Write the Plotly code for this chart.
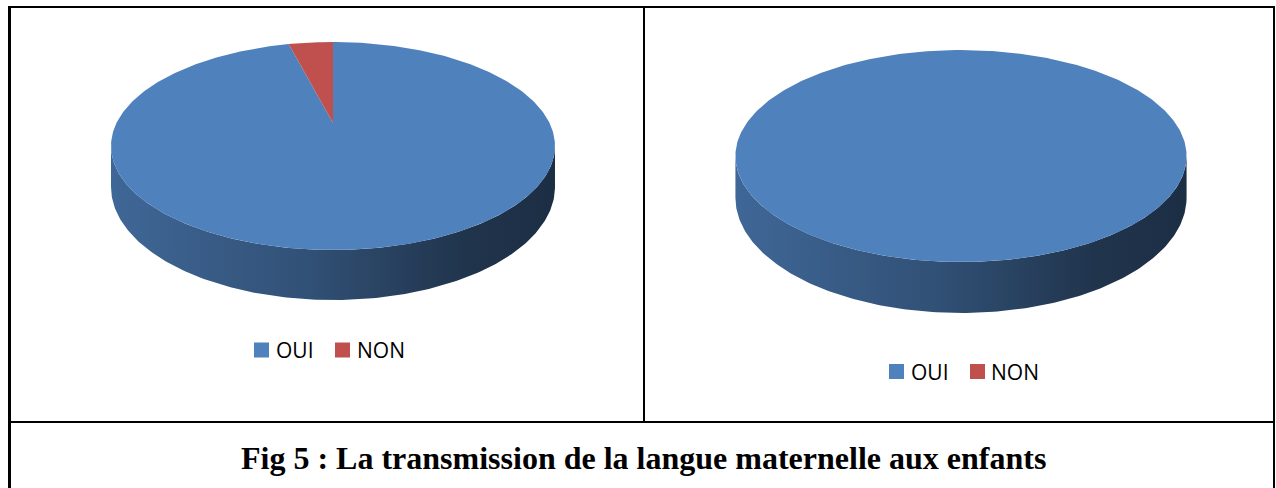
import numpy as np
import plotly.graph_objects as go

# ---- data ----
categories = ["OUI", "NON"]
left_values = [96, 4]
right_values = [100, 0]
caption = "Fig 5 : La transmission de la langue maternelle aux enfants"

colors = {"OUI": (79, 129, 189), "NON": (192, 80, 77)}

W, H = 1276, 488


def rgb(c, k=1.0):
    return "rgb(%d,%d,%d)" % tuple(int(round(v * k)) for v in c)


def project(theta, cx, cy, A, B, p, dz=0.0):
    """Perspective view of a disc: theta measured clockwise from 12 o'clock."""
    u = np.sin(theta)
    v = np.cos(theta)
    s = 1.0 / (1.0 + p * v)
    return cx + A * u * s, cy - B * v * s + dz * s


def pie3d(fig, values, geom):
    cx, cy, A, B, p, depth = geom
    total = float(sum(values))
    fr = np.cumsum([0.0] + [v / total for v in values])
    # silhouette of the rim (points where the outline is vertical)
    t_sil = np.arccos(-p)
    front0, front1 = t_sil, 2 * np.pi - t_sil
    xl = cx - A / np.sqrt(1 - p * p)
    xr = cx + A / np.sqrt(1 - p * p)

    # side walls first
    for cat, a, b in zip(categories, fr[:-1], fr[1:]):
        if b - a <= 0:
            continue
        t0 = max(2 * np.pi * a, front0)
        t1 = min(2 * np.pi * b, front1)
        if t1 <= t0:
            continue
        t = np.linspace(t0, t1, 200)
        xt, yt = project(t, cx, cy, A, B, p)
        xb, yb = project(t[::-1], cx, cy, A, B, p, depth)
        xs = np.concatenate([xt, xb, xt[:1]])
        ys = np.concatenate([yt, yb, yt[:1]])
        c = colors[cat]
        fig.add_trace(go.Scatter(
            x=xs, y=ys, mode="lines", fill="toself",
            line=dict(width=0), hoverinfo="skip", showlegend=False,
            fillgradient=dict(
                type="horizontal", start=xl, stop=xr,
                colorscale=[[0.0, rgb(c, 0.80)], [0.45, rgb(c, 0.62)],
                            [0.8, rgb(c, 0.40)], [1.0, rgb(c, 0.36)]],
            ),
        ))

    # top face slices
    for cat, a, b in zip(categories, fr[:-1], fr[1:]):
        if b - a <= 0:
            continue
        t = np.linspace(2 * np.pi * a, 2 * np.pi * b, max(4, int(400 * (b - a))))
        xt, yt = project(t, cx, cy, A, B, p)
        if b - a < 1:
            xs = np.concatenate([[cx], xt, [cx]])
            ys = np.concatenate([[cy], yt, [cy]])
        else:
            xs, ys = xt, yt
        fig.add_trace(go.Scatter(
            x=xs, y=ys, mode="lines", fill="toself",
            fillcolor=rgb(colors[cat]), line=dict(width=0),
            hoverinfo="skip", showlegend=False,
        ))


def legend(fig, xs_box, y, xs_text):
    fig.add_trace(go.Scatter(
        x=xs_box, y=[y] * len(categories), mode="markers",
        marker=dict(symbol="square", size=15,
                    color=[rgb(colors[c]) for c in categories], line=dict(width=0)),
        hoverinfo="skip", showlegend=False,
    ))
    for c, xt in zip(categories, xs_text):
        fig.add_annotation(x=xt, y=y, text=c, showarrow=False, xanchor="left",
                           yanchor="middle",
                           font=dict(family="Open Sans", size=21, color="#000"))


fig = go.Figure()

# left pie: centre, radii, perspective, thickness
pie3d(fig, left_values, (333, 123, 216.5, 98.9, 0.221, 39))
pie3d(fig, right_values, (961, 132.6, 220.0, 100.8, 0.221, 39.7))

legend(fig, [261.5, 342.5], 350, [274, 355])
legend(fig, [896.5, 977.5], 371.5, [909, 989])

fig.add_annotation(x=643.5, y=458, text="<b>%s</b>" % caption, showarrow=False,
                   xanchor="center", yanchor="middle",
                   font=dict(family="Liberation Serif", size=32, color="#000"))

# table borders
line = dict(color="#000", width=2)
shapes = [
    dict(type="line", x0=9, x1=1274, y0=7, y1=7, line=line),
    dict(type="line", x0=9, x1=1274, y0=422, y1=422, line=line),
    dict(type="line", x0=9.5, x1=9.5, y0=6, y1=H + 2, line=dict(color="#000", width=3)),
    dict(type="line", x0=1274, x1=1274, y0=6, y1=H + 2, line=line),
    dict(type="line", x0=644, x1=644, y0=7, y1=422, line=line),
]
for s in shapes:
    s.update(xref="x", yref="y", layer="above")

fig.update_layout(
    width=W, height=H, margin=dict(l=0, r=0, t=0, b=0),
    paper_bgcolor="white", plot_bgcolor="white",
    xaxis=dict(range=[0, W], visible=False, fixedrange=True),
    yaxis=dict(range=[H, 0], visible=False, fixedrange=True),
    shapes=shapes, showlegend=False,
)

fig.write_html("out.html")
